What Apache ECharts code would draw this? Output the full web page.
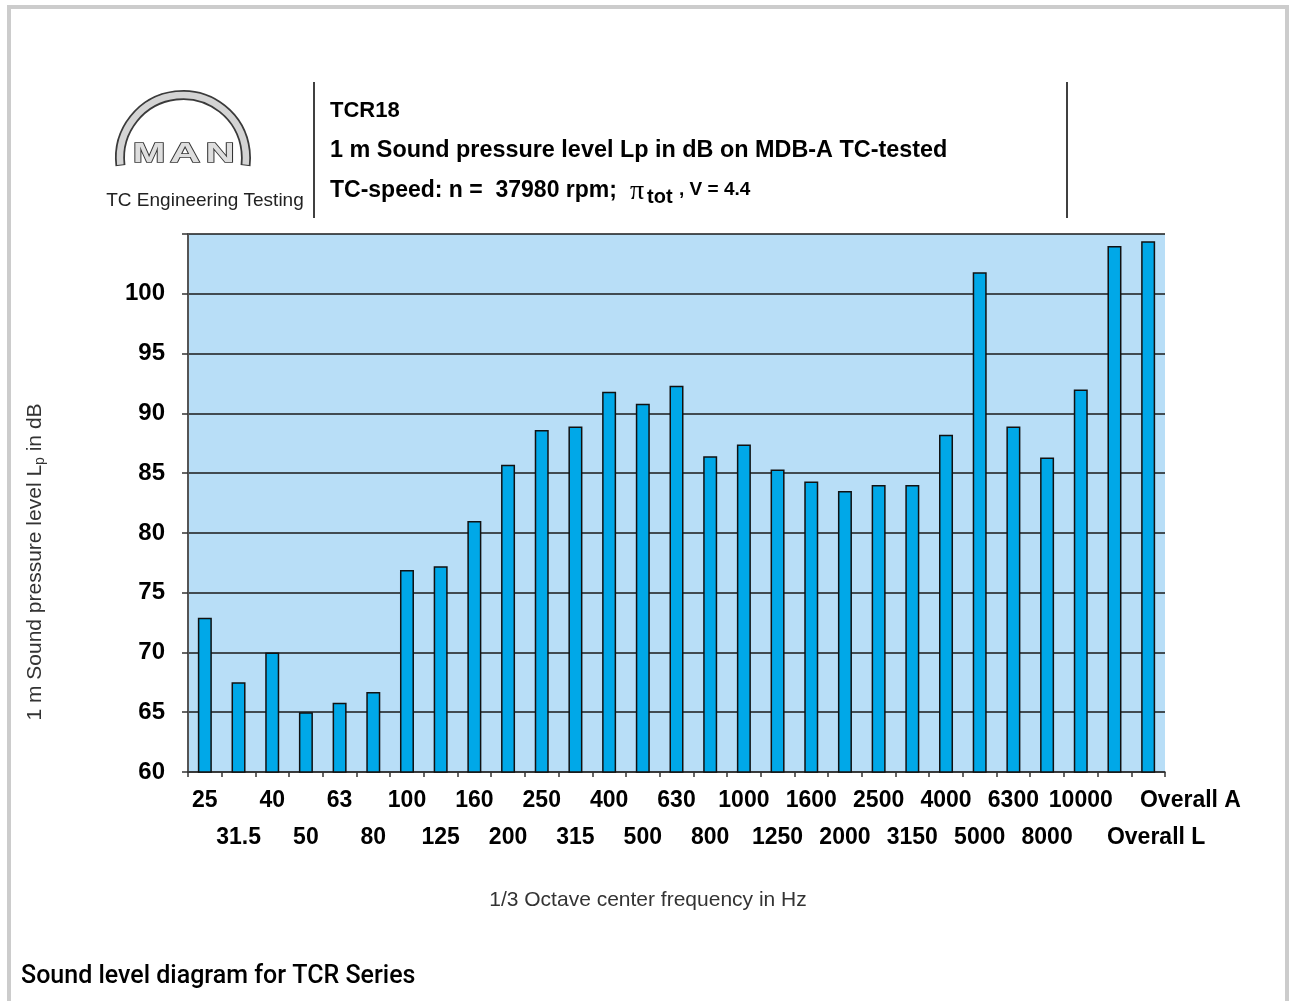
<!DOCTYPE html>
<html>
<head>
<meta charset="utf-8">
<script src="https://cdn.jsdelivr.net/npm/echarts@6/dist/echarts.min.js"></script>
<style>
html,body{margin:0;padding:0;background:#fff;}
#chart{width:1292px;height:1001px;}
</style>
</head>
<body>
<div id="chart"></div>
<script>
const categories = ['25','31.5','40','50','63','80','100','125','160','200','250','315','400','500','630','800','1000','1250','1600','2000','2500','3150','4000','5000','6300','8000','10000','Overall A','Overall L'];
const levels = [72.9, 67.5, 70.0, 65.0, 65.8, 66.7, 76.9, 77.2, 81.0, 85.7, 88.6, 88.9, 91.8, 90.8, 92.3, 86.4, 87.4, 85.3, 84.3, 83.5, 84.0, 84.0, 88.2, 101.8, 88.9, 86.3, 92.0, 104.0, 104.4];
const yMin = 60, yMax = 105, yStep = 5;
const yTickLabels = ['60','65','70','75','80','85','90','95','100'];
const lowerRowLabels = ['31.5','50','80','125','200','315','500','800','1250','2000','3150','5000','8000','Overall L'];

const FONT = '"Liberation Sans", Arial, Helvetica, sans-serif';

const chart = echarts.init(document.getElementById('chart'), null, {renderer: 'canvas'});

const catData = categories.map(c => {
  if (c === 'Overall A') return {value: c, textStyle: {padding: [0, 0, 0, 152]}};
  if (c === 'Overall L') return {value: c, textStyle: {padding: [0, 0, 0, 16]}};
  return c;
});

const letterStyle = {font: 'bold 27px ' + FONT, fill: '#dedede', stroke: '#333', lineWidth: 1.4, align: 'center', verticalAlign: 'middle'};

const option = {
  animation: false,
  backgroundColor: '#ffffff',
  grid: {
    left: 188, top: 234, width: 977, height: 538,
    show: true, backgroundColor: '#b8def7', borderWidth: 0
  },
  xAxis: {
    type: 'category',
    data: catData,
    boundaryGap: true,
    axisLine: {show: true, lineStyle: {color: '#333', width: 1.5}},
    axisTick: {show: true, interval: 0, length: 5, lineStyle: {color: '#333', width: 1.5}},
    axisLabel: {
      interval: 0,
      margin: 10,
      color: '#000',
      fontFamily: FONT,
      fontWeight: 'bold',
      fontSize: 23,
      lineHeight: 37,
      formatter: v => (lowerRowLabels.indexOf(v) >= 0 ? '\n' + v : v)
    },
    splitLine: {show: false}
  },
  yAxis: {
    type: 'value',
    min: yMin, max: yMax, interval: yStep,
    axisLine: {show: true, lineStyle: {color: '#555', width: 2}},
    axisTick: {show: true, length: 6, lineStyle: {color: '#333', width: 1.5}},
    axisLabel: {
      margin: 23,
      color: '#000',
      fontFamily: FONT,
      fontWeight: 'bold',
      fontSize: 24,
      formatter: v => (yTickLabels.indexOf(String(v)) >= 0 ? String(v) : '')
    },
    splitLine: {show: true, lineStyle: {color: '#1a1a1a', width: 1.5}}
  },
  series: [{
    type: 'bar',
    data: levels,
    barWidth: 14,
    itemStyle: {color: '#00a8e8', borderColor: '#111', borderWidth: 1.5},
    z: 3
  }],
  graphic: [
    {type: 'rect', shape: {x: 9, y: 7, width: 1278, height: 1010}, style: {fill: 'none', stroke: '#cccccc', lineWidth: 4}, silent: true},
    {type: 'line', shape: {x1: 314, y1: 82, x2: 314, y2: 218}, style: {stroke: '#000', lineWidth: 1.5}},
    {type: 'line', shape: {x1: 1067, y1: 82, x2: 1067, y2: 218}, style: {stroke: '#000', lineWidth: 1.5}},
    // logo
    {type: 'arc', shape: {cx: 183, cy: 158, r: 63, startAngle: Math.PI - 0.12, endAngle: 2 * Math.PI + 0.12, clockwise: true}, style: {stroke: '#3a3a3a', lineWidth: 10, fill: 'none'}},
    {type: 'arc', shape: {cx: 183, cy: 158, r: 63, startAngle: Math.PI - 0.105, endAngle: 2 * Math.PI + 0.105, clockwise: true}, style: {stroke: '#d4d4d4', lineWidth: 6.5, fill: 'none'}},
    {type: 'text', x: 149, y: 155, scaleX: 1.45, style: Object.assign({}, letterStyle, {text: 'M'})},
    {type: 'text', x: 185, y: 155, scaleX: 1.55, style: Object.assign({}, letterStyle, {text: 'A'})},
    {type: 'text', x: 220, y: 155, scaleX: 1.5, style: Object.assign({}, letterStyle, {text: 'N'})},
    {type: 'text', x: 205, y: 201, style: {text: 'TC Engineering Testing', font: '19px ' + FONT, fill: '#222', align: 'center', verticalAlign: 'middle'}},
    // title block
    {type: 'text', x: 330, y: 111, style: {text: 'TCR18', font: 'bold 22px ' + FONT, fill: '#000', align: 'left', verticalAlign: 'middle'}},
    {type: 'text', x: 330, y: 151, style: {text: '1 m Sound pressure level Lp in dB on MDB-A TC-tested', font: 'bold 23.4px ' + FONT, fill: '#000', align: 'left', verticalAlign: 'middle'}},
    {type: 'text', x: 330, y: 191, style: {text: 'TC-speed: n =  37980 rpm;', font: 'bold 23px ' + FONT, fill: '#000', align: 'left', verticalAlign: 'middle'}},
    {type: 'text', x: 630, y: 192, style: {text: 'π', font: '28px "Liberation Serif", "DejaVu Serif", serif', fill: '#000', align: 'left', verticalAlign: 'middle'}},
    {type: 'text', x: 647, y: 197, style: {text: 'tot', font: 'bold 20px ' + FONT, fill: '#000', align: 'left', verticalAlign: 'middle'}},
    {type: 'text', x: 679, y: 190, style: {text: ', V = 4.4', font: 'bold 19px ' + FONT, fill: '#000', align: 'left', verticalAlign: 'middle'}},
    // axis names
    {type: 'text', x: 35, y: 562, rotation: Math.PI / 2, style: {
      text: '1 m Sound pressure level L{sub|p} in dB',
      rich: {sub: {fontSize: 14, fontFamily: FONT, fill: '#333', padding: [10, 0, 0, 0]}},
      font: '21px ' + FONT, fill: '#333', align: 'center', verticalAlign: 'middle'}},
    {type: 'text', x: 648, y: 900, style: {text: '1/3 Octave center frequency in Hz', font: '21px ' + FONT, fill: '#333', align: 'center', verticalAlign: 'middle'}},
    {type: 'text', x: 21, y: 977, style: {text: 'Sound level diagram for TCR Series', font: '500 25px Roboto, ' + FONT, fill: '#000', align: 'left', verticalAlign: 'middle'}}
  ]
};
chart.setOption(option);
</script>
</body>
</html>
